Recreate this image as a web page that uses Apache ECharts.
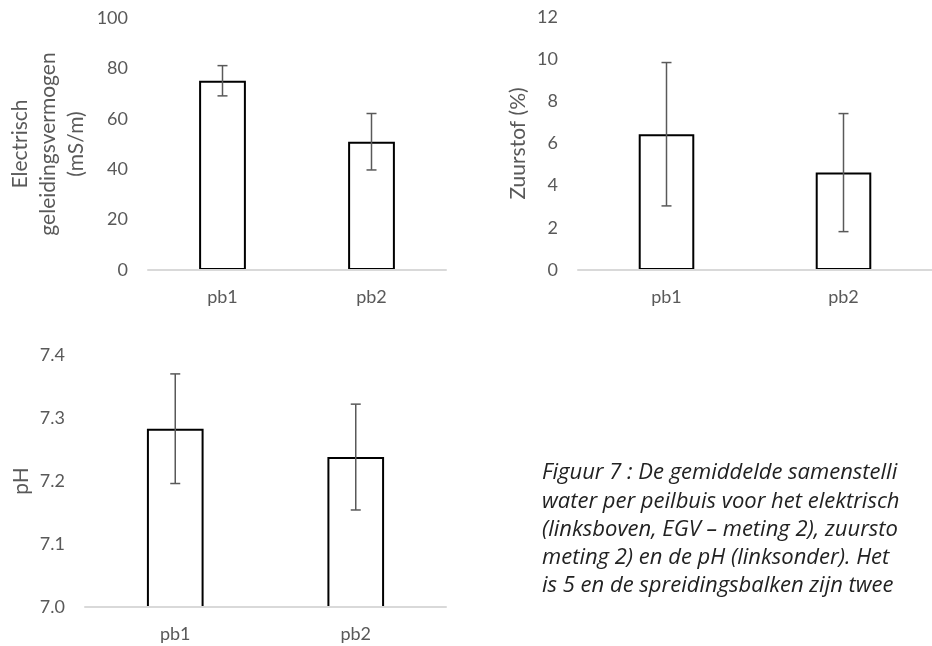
<!DOCTYPE html>
<html>
<head>
<meta charset="utf-8">
<script src="https://cdn.jsdelivr.net/npm/echarts@6/dist/echarts.min.js"></script>
<style>
html,body{margin:0;padding:0;background:#fff;}
#chart{width:932px;height:646px;}
</style>
</head>
<body>
<div id="chart"></div>
<script>
// ---- data ----
const categories = ['pb1', 'pb2'];
const egvMean = [75.1, 50.9];
const egvErr = [6.0, 11.2];
const o2Mean = [6.44, 4.62];
const o2Err = [3.4, 2.8];
const phMean = [7.283, 7.238];
const phErr = [0.087, 0.084];
const captionLines = [
  'Figuur 7 : De gemiddelde samenstelli',
  'water per peilbuis voor het elektrisch',
  '(linksboven, EGV \u2013 meting 2), zuursto',
  'meting 2) en de pH (linksonder). Het',
  'is 5 en de spreidingsbalken zijn twee'
];

const FONT = 'Lato';
const LABEL_COLOR = '#595959';

function errData(mean, err) {
  return mean.map((m, i) => [i, m - err[i], m + err[i]]);
}

function errorSeries(idx, mean, err) {
  return {
    type: 'custom',
    xAxisIndex: idx, yAxisIndex: idx,
    z: 5,
    silent: true,
    data: errData(mean, err),
    renderItem: function (params, api) {
      const x = api.value(0);
      const lo = api.coord([x, api.value(1)]);
      const hi = api.coord([x, api.value(2)]);
      const cap = 5;
      const st = { stroke: '#595959', lineWidth: 1.5 };
      return {
        type: 'group',
        children: [
          { type: 'line', shape: { x1: lo[0], y1: lo[1], x2: hi[0], y2: hi[1] }, style: st },
          { type: 'line', shape: { x1: hi[0] - cap, y1: hi[1], x2: hi[0] + cap, y2: hi[1] }, style: st },
          { type: 'line', shape: { x1: lo[0] - cap, y1: lo[1], x2: lo[0] + cap, y2: lo[1] }, style: st }
        ]
      };
    }
  };
}

function barSeries(idx, mean) {
  return {
    type: 'bar',
    xAxisIndex: idx, yAxisIndex: idx,
    data: mean,
    barWidth: '31.4%',
    itemStyle: { color: '#ffffff', borderColor: '#000000', borderWidth: 2 },
    silent: true,
    z: 2
  };
}

function xAxis(idx) {
  return {
    type: 'category', gridIndex: idx, data: categories,
    axisLine: { show: true, lineStyle: { color: '#d9d9d9', width: 2 } },
    axisTick: { show: false },
    axisLabel: { color: LABEL_COLOR, fontFamily: FONT, fontSize: 18, margin: 18 },
    z: 10
  };
}

function yAxis(idx, min, max, interval, name, nameGap, dec) {
  return {
    type: 'value', gridIndex: idx, min: min, max: max, interval: interval,
    axisLine: { show: false }, axisTick: { show: false },
    splitLine: { show: false },
    axisLabel: {
      color: LABEL_COLOR, fontFamily: FONT, fontSize: 18, margin: 20,
      formatter: v => dec ? v.toFixed(dec) : String(Math.round(v))
    },
    name: name, nameLocation: 'middle', nameGap: nameGap, nameRotate: 90,
    nameTextStyle: { color: LABEL_COLOR, fontFamily: FONT, fontSize: 21, lineHeight: 28 }
  };
}

const chart = echarts.init(document.getElementById('chart'), null, { renderer: 'canvas' });

chart.setOption({
  animation: false,
  backgroundColor: '#ffffff',
  grid: [
    { left: 148, top: 18, width: 298, height: 252 },
    { left: 578, top: 17, width: 366, height: 253 },
    { left: 85, top: 355, width: 361, height: 252 }
  ],
  xAxis: [xAxis(0), xAxis(1), xAxis(2)],
  yAxis: [
    yAxis(0, 0, 100, 20, 'Electrisch\ngeleidingsvermogen\n(mS/m)', 58, 0),
    yAxis(1, 0, 12, 2, 'Zuurstof (%)', 46, 0),
    yAxis(2, 7.0, 7.4, 0.1, 'pH', 50, 1)
  ],
  series: [
    barSeries(0, egvMean), errorSeries(0, egvMean, egvErr),
    barSeries(1, o2Mean), errorSeries(1, o2Mean, o2Err),
    barSeries(2, phMean), errorSeries(2, phMean, phErr)
  ],
  graphic: captionLines.map((t, i) => ({
    type: 'text',
    left: 542,
    top: 462 + i * 28.3,
    style: {
      text: t,
      fontFamily: 'Open Sans',
      fontStyle: 'italic',
      fontSize: 22,
      fill: '#222222'
    }
  }))
});
</script>
</body>
</html>
